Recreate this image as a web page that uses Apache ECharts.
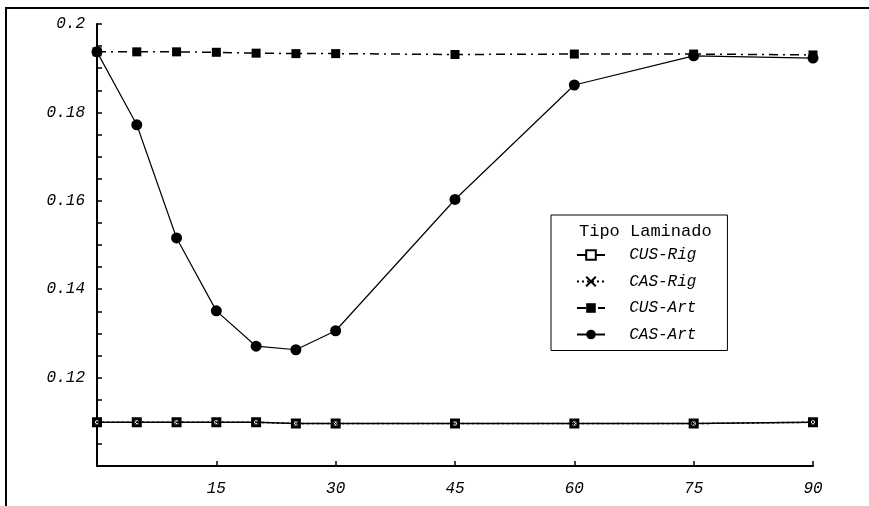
<!DOCTYPE html>
<html>
<head>
<meta charset="utf-8">
<script src="https://cdn.jsdelivr.net/npm/echarts@6/dist/echarts.min.js"></script>
<style>
  html, body { margin: 0; padding: 0; background: #fff; }
  #chart { width: 869px; height: 506px; }
</style>
</head>
<body>
<div id="chart"></div>
<script>
// angulos (x) y valores de cada laminado
var angles = [0, 5, 10, 15, 20, 25, 30, 45, 60, 75, 90];
var cusRig = [0.1099, 0.1099, 0.1099, 0.1099, 0.1099, 0.1096, 0.1096, 0.1096, 0.1096, 0.1096, 0.1099];
var casRig = [0.1099, 0.1099, 0.1099, 0.1099, 0.1099, 0.1096, 0.1096, 0.1096, 0.1096, 0.1096, 0.1099];
var cusArt = [0.1937, 0.1937, 0.1937, 0.1936, 0.1934, 0.1933, 0.1933, 0.1931, 0.1932, 0.1932, 0.1930];
var casArt = [0.1937, 0.1772, 0.1516, 0.1351, 0.1271, 0.1263, 0.1306, 0.1603, 0.1862, 0.1928, 0.1923];
var yTicks = [0.12, 0.14, 0.16, 0.18, 0.2];
var xTicks = [15, 30, 45, 60, 75, 90];

function pairs(ys) {
  return angles.map(function (a, i) { return [a, ys[i]]; });
}

var monoItalic = {
  fontFamily: "Liberation Mono",
  fontStyle: "italic",
  fontSize: 16,
  color: "#000"
};

var chart = echarts.init(document.getElementById("chart"));
chart.setOption({
  animation: false,
  backgroundColor: "#fff",
  title: {
    text: "Tipo Laminado",
    left: 574,
    top: 218,
    textStyle: { fontFamily: "Liberation Mono", fontSize: 17, fontWeight: "normal", color: "#000" }
  },
  legend: {
    orient: "vertical",
    left: 551,
    top: 215,
    padding: [32, 31, 8, 25],
    itemGap: 10.5,
    itemWidth: 28,
    itemHeight: 12,
    borderColor: "#000",
    borderWidth: 1,
    textStyle: monoItalic,
    formatter: function (name) { return "  " + name; },
    data: ["CUS-Rig", "CAS-Rig", "CUS-Art", "CAS-Art"]
  },
  grid: { left: 97, right: 56, top: 24, bottom: 40 },
  xAxis: {
    type: "value",
    min: 0,
    max: 90,
    interval: 15,
    axisLine: { lineStyle: { color: "#000", width: 2 } },
    axisTick: { inside: true, length: 5, lineStyle: { color: "#000", width: 1.5 } },
    splitLine: { show: false },
    axisLabel: Object.assign({}, monoItalic, {
      margin: 15,
      formatter: function (v) { return xTicks.indexOf(v) >= 0 ? String(v) : ""; }
    })
  },
  yAxis: {
    type: "value",
    min: 0.1,
    max: 0.2,
    interval: 0.02,
    axisLine: { lineStyle: { color: "#000", width: 2 } },
    axisTick: { inside: true, length: 5, lineStyle: { color: "#000", width: 1.5 } },
    minorTick: { show: true, splitNumber: 4, length: 5, lineStyle: { color: "#000", width: 1.5 } },
    splitLine: { show: false },
    axisLabel: Object.assign({}, monoItalic, {
      margin: 12,
      formatter: function (v) {
        var r = Math.round(v * 100) / 100;
        return yTicks.indexOf(r) >= 0 ? String(r) : "";
      }
    })
  },
  graphic: [
    // marco exterior
    { type: "line", shape: { x1: 5, y1: 8, x2: 869, y2: 8 }, style: { stroke: "#000", lineWidth: 2 } },
    { type: "line", shape: { x1: 6, y1: 8, x2: 6, y2: 506 }, style: { stroke: "#000", lineWidth: 2 } }
  ],
  series: [
    {
      name: "CAS-Rig",
      type: "line",
      data: pairs(casRig),
      symbol: "path://M0,0L10,10M10,0L0,10",
      symbolSize: 5,
      itemStyle: { color: "#000", borderColor: "#000", borderWidth: 1 },
      lineStyle: { color: "#000", width: 1.5, type: [2, 3] },
      z: 3
    },
    {
      name: "CUS-Rig",
      type: "line",
      data: pairs(cusRig),
      symbol: "rect",
      symbolSize: 7,
      itemStyle: { color: "#fff", borderColor: "#000", borderWidth: 3 },
      lineStyle: { color: "#000", width: 1.5, type: "solid" },
      z: 2
    },
    {
      name: "CUS-Art",
      type: "line",
      data: pairs(cusArt),
      symbol: "rect",
      symbolSize: 9,
      itemStyle: { color: "#000" },
      lineStyle: { color: "#000", width: 1.5, type: [9, 5, 2, 5] },
      z: 2
    },
    {
      name: "CAS-Art",
      type: "line",
      data: pairs(casArt),
      symbol: "circle",
      symbolSize: 11,
      itemStyle: { color: "#000" },
      lineStyle: { color: "#000", width: 1.2, type: "solid" },
      z: 2
    }
  ]
});
</script>
</body>
</html>
